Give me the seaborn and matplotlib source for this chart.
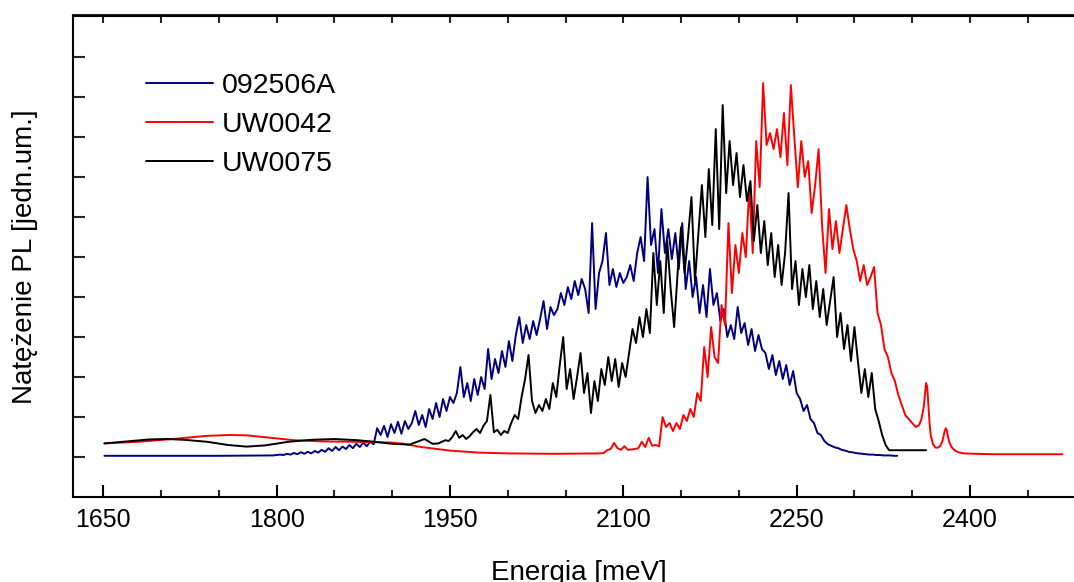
import numpy as np
import matplotlib
matplotlib.use("Agg")
import matplotlib.pyplot as plt
import seaborn as sns
from matplotlib.ticker import MultipleLocator

sns.set_theme(style="ticks")
plt.rcParams["font.family"] = ["Liberation Sans", "DejaVu Sans"]

# ---- PL spectra (energy in meV, intensity in arbitrary units) ----
# 092506A
blue_head_e = [1651, 1700, 1750, 1797]
blue_head_i = [0.03, 0.03, 0.03, 0.04]
blue_e = np.arange(1800, 2338, 3)
blue_i = [
    0.05, 0.06, 0.05, 0.08, 0.06, 0.10, 0.07, 0.12, 0.08, 0.13, 0.09,
    0.15, 0.11, 0.18, 0.13, 0.22, 0.15, 0.25, 0.17, 0.26, 0.20,
    0.30, 0.22, 0.33, 0.25, 0.36, 0.27, 0.38, 0.32, 0.72,
    0.55, 0.78, 0.50, 0.82, 0.60, 0.88, 0.58, 0.90, 0.70, 0.85, 1.15,
    0.80, 1.05, 0.75, 1.20, 0.95, 1.35, 1.00, 1.45, 1.15, 1.50,
    1.35, 1.60, 2.25, 1.50, 1.85, 1.40, 1.95, 1.55, 2.00, 1.70,
    2.70, 1.95, 2.45, 2.10, 2.65, 2.25, 2.90, 2.40, 3.05, 3.50,
    2.85, 3.30, 2.95, 3.40, 3.05, 3.45, 3.90, 3.20, 3.75, 3.55,
    3.70, 4.10, 3.80, 4.25, 3.95, 4.40, 4.05, 4.45, 4.20, 3.60,
    5.85, 3.70, 4.60, 4.90, 5.60, 4.30, 4.70, 4.25, 4.60, 4.35,
    4.50, 4.80, 4.40, 5.10, 5.50, 4.90, 7.00, 5.30, 5.70, 4.60,
    6.20, 5.10, 5.70, 4.95, 5.60, 4.70, 5.85, 4.20, 4.90, 4.00,
    4.50, 3.60, 4.30, 3.50, 4.70, 3.80, 4.10, 3.40, 3.70, 3.00,
    3.30, 2.95, 3.75, 3.10, 3.35, 2.80, 3.20, 2.65, 3.05, 2.70,
    2.60, 2.20, 2.55, 2.05, 2.40, 1.95, 2.30, 1.80, 2.15, 1.60,
    1.45, 1.15, 1.30, 0.95, 0.85, 0.60, 0.55, 0.40, 0.32, 0.28,
    0.24, 0.22, 0.18, 0.16, 0.13, 0.12, 0.10, 0.09, 0.08, 0.07,
    0.06, 0.06, 0.05, 0.05, 0.04, 0.04, 0.04, 0.03, 0.03,
]

# UW0042
red_head_e = [1651, 1680, 1710, 1740, 1760, 1775, 1795, 1815, 1840, 1870,
              1900, 1910, 1925, 1950, 1975, 2000, 2040, 2080]
red_head_i = [0.34, 0.38, 0.45, 0.53, 0.55, 0.54, 0.48, 0.42, 0.39, 0.38,
              0.36, 0.33, 0.25, 0.16, 0.11, 0.09, 0.08, 0.09]
red_e = np.arange(2083, 2348, 3)
red_i = [
    0.10, 0.17, 0.20, 0.35, 0.22, 0.18, 0.27, 0.18, 0.19, 0.20,
    0.22, 0.38, 0.25, 0.48, 0.28, 0.30, 0.27, 1.00, 0.75, 0.85,
    0.65, 0.85, 0.70, 1.05, 0.90, 1.20, 1.00, 1.60, 1.40, 2.75,
    2.00, 3.25, 2.50, 2.35, 3.80, 3.30, 5.85, 4.10, 5.30, 4.60,
    5.60, 5.00, 6.75, 5.10, 7.90, 6.75, 9.35, 7.80, 8.10, 7.70,
    8.20, 7.50, 8.60, 7.30, 9.30, 8.00, 6.75, 7.90, 7.00, 7.40,
    6.10, 6.80, 7.70, 5.80, 4.60, 6.20, 5.20, 5.90, 5.10, 5.70,
    6.30, 5.70, 5.20, 4.90, 4.40, 4.80, 4.30, 4.50, 4.75, 3.60,
    3.30, 2.70, 2.50, 2.10, 1.90, 1.55, 1.30, 1.05, 0.95,
]
red_tail_e = [2350, 2353, 2356, 2358, 2360, 2361, 2362, 2363, 2364, 2365,
              2366, 2368, 2370, 2372, 2374, 2376, 2377, 2378, 2379, 2380,
              2381, 2382, 2384, 2387, 2390, 2395, 2405, 2420, 2450, 2480]
red_tail_i = [0.85, 0.75, 0.80, 0.95, 1.25, 1.55, 1.85, 1.75, 1.30, 0.85,
              0.55, 0.32, 0.24, 0.23, 0.27, 0.38, 0.50, 0.64, 0.72, 0.66,
              0.50, 0.38, 0.25, 0.16, 0.12, 0.09, 0.08, 0.07, 0.07, 0.07]

# UW0075
black_head_e = [1651, 1670, 1690, 1705, 1720, 1740, 1758, 1774, 1790, 1810,
                1830, 1850, 1870, 1885, 1900, 1915, 1928, 1935]
black_head_i = [0.34, 0.39, 0.44, 0.45, 0.43, 0.38, 0.30, 0.26, 0.29, 0.38,
                0.43, 0.45, 0.42, 0.38, 0.33, 0.31, 0.45, 0.33]
black_e = np.arange(1940, 2331, 3)
black_i = [
    0.34, 0.38, 0.42, 0.40, 0.50, 0.65, 0.48, 0.55, 0.45, 0.52, 0.62,
    0.70, 0.60, 0.78, 0.90, 1.55, 0.62, 0.68, 0.55, 0.65, 0.60,
    0.85, 1.05, 0.95, 1.50, 1.95, 2.55, 1.40, 1.10, 1.30, 1.15,
    1.45, 1.20, 1.85, 1.50, 2.30, 3.00, 1.70, 2.20, 1.45, 2.00,
    2.60, 1.60, 2.10, 1.10, 1.90, 1.40, 2.20, 1.80, 2.50, 1.90,
    2.45, 1.75, 2.35, 2.00, 2.60, 3.20, 2.85, 3.50, 3.00, 3.70,
    3.10, 5.10, 3.80, 4.90, 3.60, 5.40, 4.20, 3.25, 4.60, 5.75,
    4.60, 5.50, 6.50, 4.40, 5.60, 6.80, 5.50, 7.20, 5.80, 8.20,
    5.70, 8.80, 6.60, 7.90, 6.80, 7.60, 6.50, 7.30, 6.40, 6.90,
    5.40, 6.30, 5.10, 5.90, 4.80, 5.60, 4.50, 5.30, 4.30, 5.10,
    6.60, 4.20, 4.90, 3.80, 4.70, 4.00, 4.80, 3.70, 4.40, 3.50,
    4.20, 3.30, 3.90, 4.50, 3.00, 3.60, 2.70, 3.30, 2.40, 3.25,
    2.40, 1.60, 2.20, 1.50, 2.10, 1.20, 0.90, 0.55, 0.30, 0.17,
]
black_tail_e = [2362]
black_tail_i = [0.17]

series = [
    ("092506A", "#000080",
     np.concatenate([blue_head_e, blue_e]), blue_head_i + blue_i),
    ("UW0042", "#ff0000",
     np.concatenate([red_head_e, red_e, red_tail_e]), red_head_i + red_i + red_tail_i),
    ("UW0075", "#000000",
     np.concatenate([black_head_e, black_e, black_tail_e]), black_head_i + black_i + black_tail_i),
]

W, H = 1074, 582
fig = plt.figure(figsize=(W / 100, H / 100), dpi=100)
x_lo, x_hi = 1623.8, 2500.0
px_per_mev = 1.1556
ax_left = 73 / W
ax_right = (73 + (x_hi - x_lo) * px_per_mev) / W
ax = fig.add_axes([ax_left, 85 / H, ax_right - ax_left, 481.5 / H])

for name, color, e, inten in series:
    sns.lineplot(x=e, y=np.asarray(inten), ax=ax, color=color, lw=1.4,
                 label=name, sort=False, estimator=None)

ax.set_xlim(x_lo, x_hi)
ax.set_ylim(-1.0, 11.04)
ax.set_facecolor("white")
for s in ax.spines.values():
    s.set_color("black")
    s.set_linewidth(1.5)

ax.xaxis.set_major_locator(MultipleLocator(150))
ax.xaxis.set_minor_locator(MultipleLocator(50))
ax.set_yticks(np.arange(0, 11, 1))
ax.set_yticklabels([])
ax.tick_params(axis="x", which="major", direction="in", length=8.5, width=1.5,
               labelsize=18, pad=8, colors="black", top=False)
ax.tick_params(axis="x", which="minor", direction="in", length=5, width=1.5,
               top=False)
ax.tick_params(axis="y", which="major", direction="in", length=8.5, width=1.5,
               right=False)

top = ax.secondary_xaxis("top")
top.set_xticks(np.arange(1650, 2500, 50))
top.tick_params(direction="in", length=5.8, width=1.5, labeltop=False)
top.spines["top"].set_linewidth(1.5)

ax.set_xlabel("Energia [meV]", fontsize=20, color="black", labelpad=20)
ax.set_ylabel("Natężenie PL [jedn.um.]", fontsize=20, color="black", labelpad=22)

ax.legend(loc="upper left", bbox_to_anchor=(146 / W, 1 - 73 / H),
          bbox_transform=fig.transFigure, frameon=False, fontsize=20.5,
          labelcolor="black", handlelength=2.35, handletextpad=0.3,
          labelspacing=0.46, borderpad=0, borderaxespad=0)

fig.savefig("out.png", dpi=100, facecolor="white")
